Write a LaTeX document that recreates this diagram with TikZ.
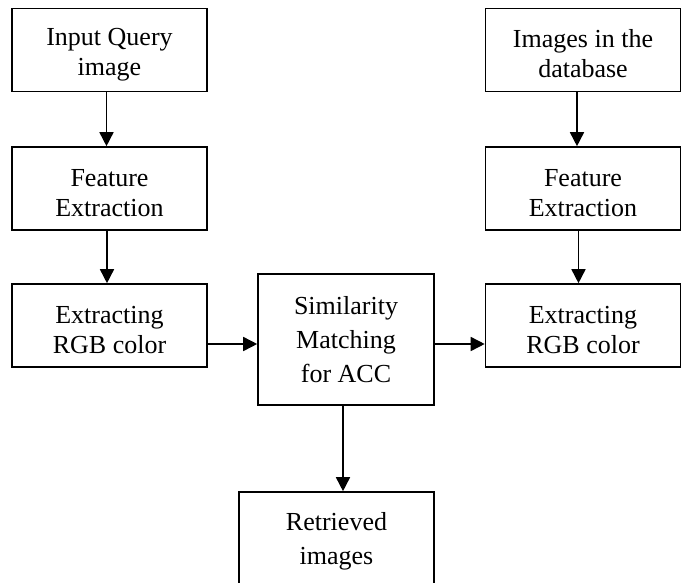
\documentclass[tikz,border=0pt]{standalone}
\usepackage{fontspec}
\setmainfont{Liberation Serif}
\usetikzlibrary{arrows.meta}
\newcommand\toppad[1]{\rule{0pt}{#1}}
\begin{document}
\begin{tikzpicture}[x=1pt,y=1pt,
  box/.style={draw=black, line width=1.6pt, rectangle, minimum width=195pt, minimum height=83pt, align=center, inner sep=0pt, font=\fontsize{26}{30}\selectfont},
  simbox/.style={box, minimum width=176pt, minimum height=131pt, font=\fontsize{26}{34}\selectfont},
  arr/.style={line width=1.6pt, -{Triangle[length=14pt,width=14pt]}}]
\useasboundingbox (0,0) rectangle (686,-583);
\node[box] (q) at (109.5,-50) {\toppad{26pt}Input Query\\image};
\node[box] (f1) at (109.5,-188.5) {\toppad{26pt}Feature\\Extraction};
\node[box] (c1) at (109.5,-325.5) {\toppad{26pt}Extracting\\RGB color};
\node[box] (d) at (583,-50) {\toppad{26pt}Images in the\\database};
\node[box] (f2) at (583,-188.5) {\toppad{26pt}Feature\\Extraction};
\node[box] (c2) at (583,-325.5) {\toppad{26pt}Extracting\\RGB color};
\node[simbox] (s) at (346,-339.5) {Similarity\\Matching\\for ACC};
\node[box, minimum height=92pt, font=\fontsize{26}{34}\selectfont] (r) at (336.5,-538) {\toppad{24pt}Retrieved\\images};
\draw[arr] ([xshift=-3pt]q.south) -- ([xshift=-3pt]f1.north);
\draw[arr] ([xshift=-2.5pt]f1.south) -- ([xshift=-2.5pt]c1.north);
\draw[arr] ([xshift=-6pt]d.south) -- ([xshift=-6pt]f2.north);
\draw[arr] ([xshift=-4.5pt]f2.south) -- ([xshift=-4.5pt]c2.north);
\draw[arr] ([yshift=-18.5pt]c1.east) -- ([yshift=-18.5pt]c1.east -| s.west);
\draw[arr] ([yshift=-4.5pt]s.east) -- ([yshift=-4.5pt]s.east -| c2.west);
\draw[arr] ([xshift=-3pt]s.south) -- ([xshift=-3pt]s.south |- r.north);
\end{tikzpicture}
\end{document}
